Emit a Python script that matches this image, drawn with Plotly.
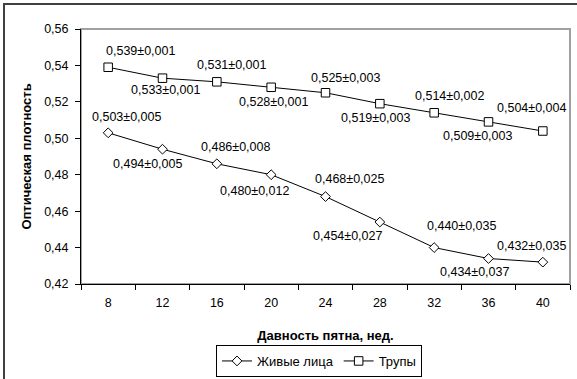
import plotly.graph_objects as go

weeks = ["8", "12", "16", "20", "24", "28", "32", "36", "40"]
alive_mean = [0.503, 0.494, 0.486, 0.480, 0.468, 0.454, 0.440, 0.434, 0.432]
alive_err = [0.005, 0.005, 0.008, 0.012, 0.025, 0.027, 0.035, 0.037, 0.035]
corpse_mean = [0.539, 0.533, 0.531, 0.528, 0.525, 0.519, 0.514, 0.509, 0.504]
corpse_err = [0.001, 0.001, 0.001, 0.001, 0.003, 0.003, 0.002, 0.003, 0.004]

# label offsets (px) for data labels: style only
alive_off = [(18, 16), (-15, -15), (19, 17), (-17, -16), (24, 18), (-32, -14), (27, 22), (-14, -13), (-11, 16)]
corpse_off = [(32, 16), (3, -12), (15, 17), (2, -15), (20, 15), (-4, -14), (15, 17), (-11, -14), (-11, 23)]

FONT = "Liberation Sans, Arial, sans-serif"


def fmt(v, e):
    return f"{v:.3f}±{e:.3f}".replace(".", ",")


fig = go.Figure()
fig.add_trace(go.Scatter(
    x=weeks, y=alive_mean, mode="lines+markers", name="Живые лица",
    line=dict(color="black", width=1),
    marker=dict(symbol="diamond", size=7.5, color="white", line=dict(color="black", width=1)),
))
fig.add_trace(go.Scatter(
    x=weeks, y=corpse_mean, mode="lines+markers", name="Трупы",
    line=dict(color="black", width=1),
    marker=dict(symbol="square", size=8.5, color="white", line=dict(color="black", width=1)),
))

annotations = []
for series, errs, offs in ((alive_mean, alive_err, alive_off), (corpse_mean, corpse_err, corpse_off)):
    for i, (v, e, (dx, dy)) in enumerate(zip(series, errs, offs)):
        annotations.append(dict(
            x=i, y=v, xref="x", yref="y", text=fmt(v, e), showarrow=False,
            xshift=dx, yshift=dy, font=dict(family=FONT, size=12.5, color="black"),
        ))

pw = 577 - 81 - 7
ph = 379 - 29 - 95
shapes = [
    # plot area border (gray)
    dict(type="rect", xref="paper", yref="paper", x0=0, y0=0, x1=1, y1=1,
         line=dict(color="#a0a0a0", width=2), layer="below"),
    # outer chart frame
    dict(type="rect", xref="paper", yref="paper",
         x0=(4 - 81) / pw, y0=(284 - 400) / ph, x1=(600 - 81) / pw, y1=(284 - 4) / ph,
         line=dict(color="#404040", width=2), layer="below"),
]

fig.update_layout(
    width=577, height=379,
    margin=dict(l=81, r=7, t=29, b=95, autoexpand=False),
    paper_bgcolor="white", plot_bgcolor="white",
    separators=", ",
    font=dict(family=FONT, size=12.5, color="black"),
    showlegend=True,
    legend=dict(
        orientation="h", x=(319 - 81) / pw, y=(284 - 361) / ph,
        xanchor="center", yanchor="middle",
        bordercolor="black", borderwidth=1, bgcolor="white",
        font=dict(family=FONT, size=13, color="black"),
        itemwidth=30, tracegroupgap=0,
    ),
    annotations=annotations,
    shapes=shapes,
    xaxis=dict(
        type="category", range=[-0.5, 8.5], tickson="boundaries",
        automargin=False,
        showline=True, linecolor="black", linewidth=1,
        ticks="outside", ticklen=5, tickcolor="black",
        showgrid=False, zeroline=False,
        ticklabelstandoff=7,
        tickfont=dict(family=FONT, size=12.5, color="black"),
        title=dict(text="<b>Давность пятна, нед.</b>", standoff=21,
                   font=dict(family=FONT, size=13, color="black")),
    ),
    yaxis=dict(
        range=[0.42, 0.56], dtick=0.02, tick0=0.42, tickformat=".2f",
        automargin=False,
        showline=True, linecolor="black", linewidth=1,
        ticks="outside", ticklen=5, tickcolor="black",
        showgrid=False, zeroline=False,
        ticklabelstandoff=4,
        tickfont=dict(family=FONT, size=12.5, color="black"),
        title=dict(text="<b>Оптическая плотность</b>", standoff=9,
                   font=dict(family=FONT, size=13, color="black")),
    ),
)

fig.write_html("out.html")
